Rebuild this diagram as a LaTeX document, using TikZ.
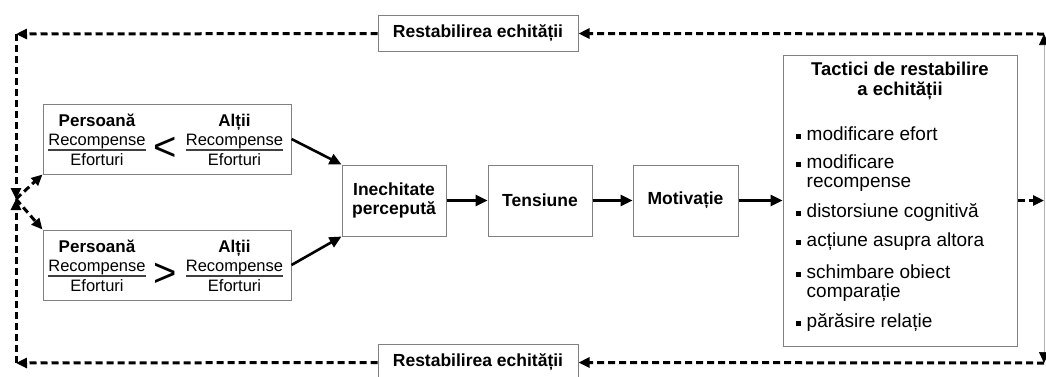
\documentclass[tikz,border=0pt]{standalone}
\usepackage{fontspec}
\setmainfont{Liberation Sans}
\usetikzlibrary{arrows.meta}

% font sizes (1pt = 1 unit of the drawing)
\newcommand\fntHead{\fontsize{17}{19}\selectfont\bfseries}
\newcommand\fntWord{\fontsize{16.5}{18}\selectfont}
\newcommand\fntStep{\fontsize{17.5}{19}\selectfont\bfseries}
\newcommand\fntTitle{\fontsize{18.5}{20}\selectfont\bfseries}
\newcommand\fntList{\fontsize{19}{19}\selectfont}
\newcommand\fntBack{\fontsize{17.5}{19}\selectfont\bfseries}
\newcommand\fntRel{\fontsize{40}{40}\selectfont}

% fraction bar under a word
\newcommand\fracword[1]{\vtop{\hbox{#1}\kern0.3pt{\color{black!75}\hrule height 1.8pt}}}
% square bullet
\newcommand\sqbullet{\rule[1pt]{5pt}{5pt}\hspace{6pt}}

\tikzset{
  box/.style={draw=black!50, line width=1pt, fill=white, inner sep=0pt},
  lbl/.style={inner sep=0pt, anchor=base},
  item/.style={inner sep=0pt, anchor=base west, font=\fntList},
  flow/.style={line width=2.6pt, -{Triangle[length=12pt,width=11pt]}},
  back/.style={line width=3pt, dash pattern=on 7pt off 4pt,
               -{Triangle[length=11pt,width=10pt]}},
}

\begin{document}
\begin{tikzpicture}[x=1pt,y=-1pt]
\useasboundingbox (0,0) rectangle (1046,376);

% comparison boxes
\node[box, minimum width=248, minimum height=70] (p1) at (167,139) {};
\node[box, minimum width=248, minimum height=70] (p2) at (167,265) {};

\node[lbl, font=\fntHead] (p1pt) at (97,126) {Persoană};
\node[lbl, font=\fntWord] (p1pr) at (97,145.5) {\fracword{Recompense}};
\node[lbl, font=\fntWord] (p1pe) at (97,165) {Eforturi};
\node[lbl, font=\fntHead] (p1at) at (234.5,126) {Alții};
\node[lbl, font=\fntWord] (p1ar) at (234.5,145.5) {\fracword{Recompense}};
\node[lbl, font=\fntWord] (p1ae) at (234.5,165) {Eforturi};
\node[inner sep=0pt, font=\fntRel] (p1rel) at (165,149) {<};

\node[lbl, font=\fntHead] (p2pt) at (97,252) {Persoană};
\node[lbl, font=\fntWord] (p2pr) at (97,271.5) {\fracword{Recompense}};
\node[lbl, font=\fntWord] (p2pe) at (97,291) {Eforturi};
\node[lbl, font=\fntHead] (p2at) at (234.5,252) {Alții};
\node[lbl, font=\fntWord] (p2ar) at (234.5,271.5) {\fracword{Recompense}};
\node[lbl, font=\fntWord] (p2ae) at (234.5,291) {Eforturi};
\node[inner sep=0pt, font=\fntRel] (p2rel) at (165,275) {>};

% main chain
\node[box, minimum width=104, minimum height=71, align=center, font=\fntStep]
  (ine) at (394,200.5) {Inechitate\\percepută};
\node[box, minimum width=104, minimum height=71, font=\fntStep]
  (ten) at (540,200.5) {Tensiune};
\node[box, minimum width=105, minimum height=71, font=\fntStep]
  (mot) at (685.5,200.5) {Motivație};
\node[box, minimum width=234, minimum height=291] (tac) at (900,200.5) {};

% tactics list
\node[lbl, font=\fntTitle] (tact) at (900,75)
  {\parbox[t]{220pt}{\centering Tactici de restabilire\\a echității}};
\node[item] (t1) at (795.5,140) {\sqbullet modificare efort};
\node[item] (t2) at (795.5,168) {\sqbullet\parbox[t]{190pt}{modificare\\recompense}};
\node[item] (t3) at (795.5,217) {\sqbullet distorsiune cognitivă};
\node[item] (t4) at (795.5,246) {\sqbullet acțiune asupra altora};
\node[item] (t5) at (795.5,278) {\sqbullet\parbox[t]{190pt}{schimbare obiect\\comparație}};
\node[item] (t6) at (795.5,327) {\sqbullet părăsire relație};

% restoring boxes
\node[box, minimum width=200, minimum height=36, font=\fntBack] (rtop) at (478,33.5) {Restabilirea echității};
\node[box, minimum width=200, minimum height=36, font=\fntBack] (rbot) at (478,362.5) {Restabilirea echității};

% corner points of the feedback loop
\coordinate (r)  at (1044,200.5);
\coordinate (rt) at (1044,34);
\coordinate (rb) at (1044,363);
\coordinate (lt) at (16,34);
\coordinate (lb) at (16,363);
\coordinate (j)  at (16,199);

% solid flow
\draw[flow] (p1.east) -- (ine.north west);
\draw[flow] (p2.east) -- (ine.south west);
\draw[flow] (ine) -- (ten);
\draw[flow] (ten) -- (mot);
\draw[flow] (mot) -- (tac);

% feedback loop
\draw[back] (tac.east) -- (r);
\draw[line width=0.7pt, black!30, -{Triangle[length=11pt,width=10pt,color=black]}] (r) -- (rt);
\draw[line width=0.7pt, black!30, -{Triangle[length=11pt,width=10pt,color=black]}] (r) -- (rb);
\draw[back] (rt) -- (rtop.east);
\draw[back] (rb) -- (rbot.east);
\draw[back] (rtop.west) -- (lt);
\draw[back] (rbot.west) -- (lb);
\draw[back] (lt) -- (j);
\draw[back] (lb) -- (j);
\draw[back] (j) -- (p1.south west);
\draw[back] (j) -- (p2.north west);
\end{tikzpicture}
\end{document}
